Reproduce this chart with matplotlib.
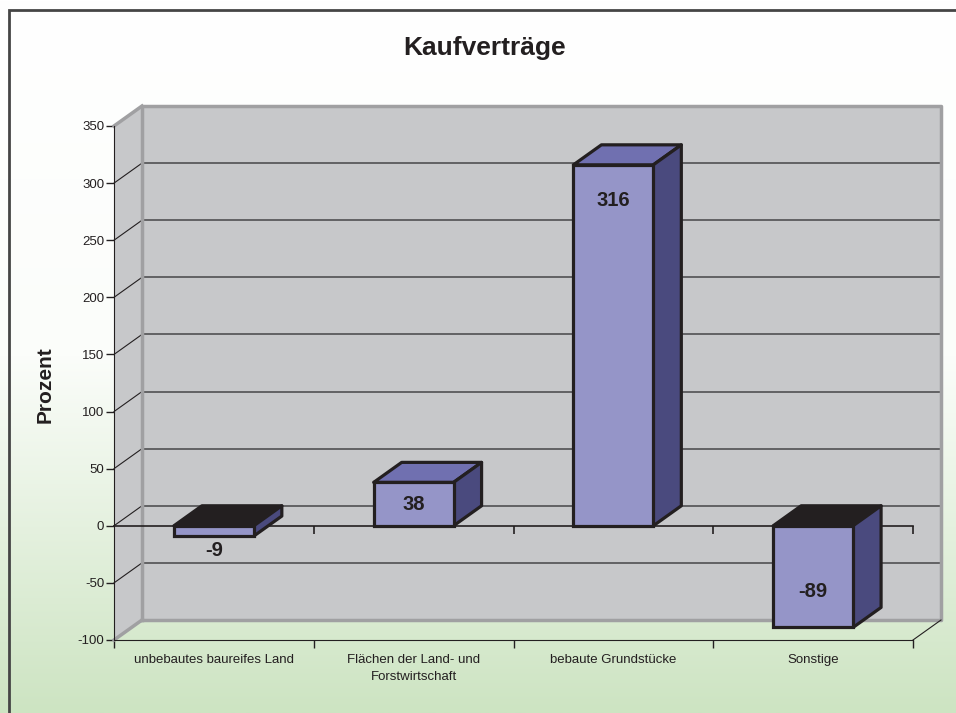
import numpy as np
import matplotlib
matplotlib.use("Agg")
from matplotlib import pyplot as plt
from matplotlib.patches import Polygon, Rectangle
from matplotlib.colors import LinearSegmentedColormap

categories = ["unbebautes baureifes Land", "Flächen der Land- und\nForstwirtschaft",
              "bebaute Grundstücke", "Sonstige"]
values = [-9, 38, 316, -89]
y_ticks = [-100, -50, 0, 50, 100, 150, 200, 250, 300, 350]

W, H = 956, 713
FRONT = "#9595c8"
TOP = "#7070b0"
SIDE = "#4a4a7e"
DARK = "#231f20"
WALL = "#c7c8ca"
EDGE = "#a0a0a2"

plt.rcParams["font.family"] = ["Liberation Sans", "DejaVu Sans"]


def main():
    fig = plt.figure(figsize=(W / 100, H / 100), dpi=100)

    # background gradient
    bg = fig.add_axes([0, 0, 1, 1], zorder=-10)
    cmap = LinearSegmentedColormap.from_list("bg", ["#ffffff", "#fbfdfa", "#cde4c2"])
    bg.imshow(np.linspace(0, 1, 256).reshape(-1, 1), aspect="auto", cmap=cmap,
              extent=[0, 1, 0, 1])
    bg.set_axis_off()
    # outer frame (left and top visible)
    fig.add_artist(Rectangle((9 / W, -0.1), 1.2, 1.1 - 10 / H, transform=fig.transFigure,
                             fill=False, ec="#454545", lw=2))

    # front plane of the plot area in pixels
    x0, x1, y0, y1 = 114, 913, 640, 126
    ax = fig.add_axes([x0 / W, 1 - y0 / H, (x1 - x0) / W, (y0 - y1) / H])
    ax.set_xlim(0, len(categories))
    ax.set_ylim(y_ticks[0], y_ticks[-1])
    ax.patch.set_visible(False)

    px_x = len(categories) / (x1 - x0)
    px_y = (y_ticks[-1] - y_ticks[0]) / (y0 - y1)
    dx, dy = 28 * px_x, 20 * px_y
    lo, hi = y_ticks[0], y_ticks[-1]
    n = len(categories)

    # walls
    ax.add_patch(Rectangle((dx, lo + dy), n, hi - lo, fc=WALL, ec="none", zorder=1, clip_on=False))
    ax.add_patch(Polygon([(0, lo), (dx, lo + dy), (dx, hi + dy), (0, hi)],
                         fc=WALL, ec="none", zorder=1, clip_on=False))
    for v in y_ticks[1:-1]:
        ax.plot([dx, n + dx], [v + dy, v + dy], color="#5a5a5c", lw=1.3, zorder=2, clip_on=False)
        ax.plot([0, dx], [v, v + dy], color=DARK, lw=0.8, zorder=2, clip_on=False)
    ax.plot([dx, dx, n + dx, n + dx, dx], [lo + dy, hi + dy, hi + dy, lo + dy, lo + dy],
            color=EDGE, lw=2.5, zorder=3, clip_on=False)
    ax.plot([0, dx], [hi, hi + dy], color=EDGE, lw=2.5, zorder=3, clip_on=False)
    ax.plot([0, dx], [lo, lo + dy], color=EDGE, lw=2.5, zorder=3, clip_on=False)
    ax.plot([n, n + dx], [lo, lo + dy], color=DARK, lw=0.8, zorder=3, clip_on=False)

    # zero axis with category ticks
    ax.plot([0, n], [0, 0], color=DARK, lw=1.2, zorder=4, clip_on=False)
    ax.vlines(range(1, n + 1), 0, -8 * px_y, color=DARK, lw=1.2, zorder=4, clip_on=False)

    # bars
    bw = 0.4
    xs = np.arange(n) + 0.5
    ax.bar(xs, values, width=bw, color=FRONT, edgecolor=DARK, linewidth=2.3,
           zorder=10, clip_on=False)
    for i, (x, v) in enumerate(zip(xs, values)):
        l, r = x - bw / 2, x + bw / 2
        top = max(v, 0)
        bot = min(v, 0)
        ax.add_patch(Polygon([(l, top), (l + dx, top + dy), (r + dx, top + dy), (r, top)],
                             fc=TOP if v > 0 else DARK, ec=DARK, lw=2.3, joinstyle="round",
                             zorder=9 + 0.01 * i, clip_on=False))
        ax.add_patch(Polygon([(r, bot), (r, top), (r + dx, top + dy), (r + dx, bot + dy)],
                             fc=SIDE, ec=DARK, lw=2.3, joinstyle="round",
                             zorder=9 + 0.01 * i, clip_on=False))
        h_px = abs(v) / px_y
        sign = 1 if v > 0 else -1
        if h_px > 80:
            ly = v - sign * 36 * px_y
        elif h_px > 30:
            ly = v / 2
        else:
            ly = v + sign * 14 * px_y
        ax.text(x, ly, str(v), ha="center", va="center", fontsize=14.5,
                fontweight="bold", color=DARK, zorder=12)

    # axes styling
    for s in ["top", "right"]:
        ax.spines[s].set_visible(False)
    ax.spines["left"].set_color(DARK)
    ax.spines["bottom"].set_color(DARK)
    ax.spines["left"].set_zorder(5)
    ax.spines["bottom"].set_zorder(5)
    ax.set_yticks(y_ticks)
    ax.set_yticklabels([str(t) for t in y_ticks])
    ax.tick_params(axis="y", direction="out", length=6, width=1, pad=1,
                   labelsize=9.5, colors=DARK)
    ax.set_xticks(xs)
    ax.set_xticklabels(categories, linespacing=1.6)
    ax.set_xticks(range(n + 1), minor=True)
    ax.tick_params(axis="x", which="major", length=0, pad=10, labelsize=9.5, colors=DARK)
    ax.tick_params(axis="x", which="minor", direction="out", length=6, width=1, color=DARK)

    fig.text(45 / W, 1 - 385 / H, "Prozent", rotation=90, ha="center", va="center",
             fontsize=15, fontweight="bold", color=DARK)
    fig.text(485 / W, 1 - 48 / H, "Kaufverträge", ha="center", va="center",
             fontsize=19, fontweight="bold", color=DARK)

    fig.savefig("out.png", dpi=100)


if __name__ == '__main__':
    main()
